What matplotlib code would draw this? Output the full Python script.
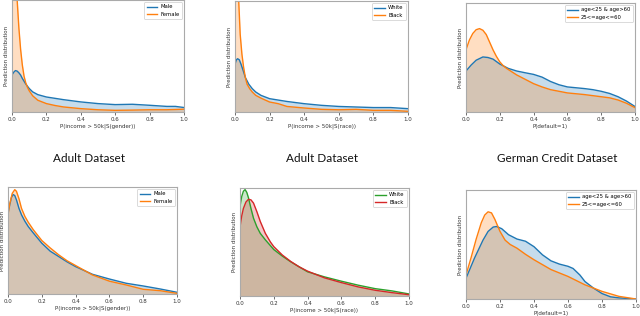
import matplotlib
matplotlib.use("Agg")
import matplotlib.pyplot as plt

plt.rcParams['font.family'] = ['DejaVu Sans']

# ---- Data (relative density heights) ----
# Top-left: Adult, gender
tl_x_male = [0.0, 0.01, 0.02, 0.03, 0.04, 0.05, 0.06, 0.08, 0.1, 0.12, 0.15, 0.2, 0.25, 0.3, 0.4, 0.5, 0.6, 0.7, 0.8, 0.9, 0.95, 1.0]
tl_y_male = [0.33, 0.355, 0.37, 0.365, 0.35, 0.33, 0.30, 0.25, 0.21, 0.18, 0.155, 0.134, 0.122, 0.11, 0.09, 0.075, 0.066, 0.069, 0.06, 0.05, 0.05, 0.04]
tl_x_female = [0.0, 0.01, 0.02, 0.03, 0.04, 0.05, 0.06, 0.07, 0.08, 0.09, 0.1, 0.12, 0.15, 0.2, 0.25, 0.3, 0.4, 0.5, 0.6, 0.7, 0.8, 0.9, 1.0]
tl_y_female = [1.25, 1.45, 1.3, 1.0, 0.75, 0.56, 0.42, 0.32, 0.26, 0.22, 0.19, 0.145, 0.105, 0.075, 0.058, 0.045, 0.03, 0.02, 0.015, 0.017, 0.02, 0.02, 0.025]

# Top-middle: Adult, race
tm_x_white = [0.0, 0.008, 0.015, 0.025, 0.035, 0.05, 0.06, 0.08, 0.1, 0.12, 0.15, 0.2, 0.3, 0.4, 0.5, 0.6, 0.7, 0.8, 0.9, 1.0]
tm_y_white = [0.43, 0.47, 0.48, 0.47, 0.43, 0.36, 0.31, 0.25, 0.21, 0.18, 0.15, 0.12, 0.095, 0.075, 0.06, 0.05, 0.045, 0.04, 0.04, 0.03]
tm_x_black = [0.0, 0.01, 0.015, 0.02, 0.03, 0.04, 0.05, 0.06, 0.07, 0.085, 0.1, 0.12, 0.15, 0.2, 0.25, 0.3, 0.4, 0.5, 0.6, 0.7, 0.8, 0.9, 1.0]
tm_y_black = [1.1, 1.3, 1.25, 1.05, 0.7, 0.52, 0.4, 0.31, 0.25, 0.21, 0.18, 0.15, 0.125, 0.09, 0.075, 0.05, 0.036, 0.024, 0.02, 0.024, 0.015, 0.015, 0.006]

# Top-right: German credit, age
tr_x_blue = [0.0, 0.03, 0.06, 0.1, 0.13, 0.16, 0.2, 0.25, 0.3, 0.35, 0.4, 0.45, 0.5, 0.55, 0.6, 0.7, 0.75, 0.8, 0.85, 0.9, 0.95, 1.0]
tr_y_blue = [0.376, 0.43, 0.475, 0.505, 0.50, 0.485, 0.44, 0.40, 0.376, 0.36, 0.345, 0.32, 0.28, 0.25, 0.23, 0.215, 0.205, 0.19, 0.17, 0.14, 0.10, 0.05]
tr_x_orange = [0.0, 0.02, 0.04, 0.06, 0.08, 0.1, 0.12, 0.14, 0.16, 0.18, 0.2, 0.22, 0.24, 0.27, 0.3, 0.35, 0.4, 0.45, 0.5, 0.55, 0.6, 0.7, 0.8, 0.85, 0.9, 0.95, 1.0]
tr_y_orange = [0.57, 0.66, 0.72, 0.755, 0.765, 0.75, 0.71, 0.64, 0.57, 0.51, 0.46, 0.425, 0.40, 0.37, 0.34, 0.30, 0.26, 0.23, 0.205, 0.19, 0.175, 0.16, 0.14, 0.13, 0.11, 0.08, 0.04]

# Bottom-left: Adult, gender (fair model)
bl_x_male = [0.0, 0.01, 0.02, 0.03, 0.04, 0.05, 0.065, 0.08, 0.1, 0.12, 0.15, 0.2, 0.25, 0.3, 0.35, 0.4, 0.5, 0.6, 0.7, 0.8, 0.9, 1.0]
bl_y_male = [0.756, 0.83, 0.90, 0.93, 0.92, 0.88, 0.80, 0.74, 0.68, 0.63, 0.57, 0.475, 0.40, 0.35, 0.30, 0.256, 0.184, 0.14, 0.10, 0.075, 0.047, 0.016]
bl_x_female = [0.0, 0.01, 0.025, 0.04, 0.05, 0.065, 0.08, 0.1, 0.12, 0.15, 0.2, 0.25, 0.3, 0.35, 0.4, 0.5, 0.6, 0.7, 0.8, 0.9, 1.0]
bl_y_female = [0.74, 0.84, 0.94, 0.975, 0.96, 0.89, 0.80, 0.725, 0.67, 0.60, 0.50, 0.43, 0.366, 0.31, 0.266, 0.178, 0.12, 0.084, 0.044, 0.031, 0.006]

# Bottom-middle: Adult, race (fair model)
bm_x_white = [0.0, 0.01, 0.02, 0.03, 0.04, 0.05, 0.065, 0.08, 0.1, 0.12, 0.15, 0.2, 0.25, 0.3, 0.35, 0.4, 0.5, 0.6, 0.7, 0.8, 0.9, 1.0]
bm_y_white = [0.83, 0.92, 0.97, 0.985, 0.96, 0.91, 0.81, 0.72, 0.64, 0.58, 0.52, 0.43, 0.37, 0.317, 0.27, 0.224, 0.177, 0.137, 0.10, 0.068, 0.047, 0.019]
bm_x_black = [0.0, 0.01, 0.02, 0.035, 0.05, 0.065, 0.08, 0.1, 0.12, 0.15, 0.18, 0.2, 0.25, 0.3, 0.35, 0.4, 0.5, 0.6, 0.7, 0.8, 0.9, 1.0]
bm_y_black = [0.64, 0.74, 0.81, 0.87, 0.895, 0.89, 0.86, 0.78, 0.69, 0.58, 0.50, 0.457, 0.38, 0.32, 0.27, 0.23, 0.168, 0.124, 0.084, 0.053, 0.031, 0.012]

# Bottom-right: German credit, age (fair model)
br_x_blue = [0.0, 0.05, 0.1, 0.13, 0.16, 0.18, 0.21, 0.25, 0.3, 0.35, 0.4, 0.45, 0.5, 0.55, 0.6, 0.63, 0.67, 0.7, 0.75, 0.8, 0.85, 0.9, 1.0]
br_y_blue = [0.19, 0.375, 0.54, 0.62, 0.66, 0.665, 0.645, 0.59, 0.55, 0.53, 0.48, 0.405, 0.35, 0.32, 0.30, 0.28, 0.22, 0.16, 0.10, 0.05, 0.02, 0.01, 0.0]
br_x_orange = [0.0, 0.03, 0.06, 0.09, 0.11, 0.13, 0.15, 0.17, 0.2, 0.23, 0.26, 0.3, 0.35, 0.4, 0.5, 0.6, 0.7, 0.75, 0.8, 0.9, 1.0]
br_y_orange = [0.22, 0.38, 0.55, 0.70, 0.77, 0.80, 0.79, 0.73, 0.62, 0.54, 0.50, 0.466, 0.41, 0.36, 0.27, 0.207, 0.13, 0.10, 0.07, 0.024, 0.0]

# Labels
labels_gender = ["Male", "Female"]
labels_race = ["White", "Black"]
labels_age = ["age<25 & age>60", "25<=age<=60"]
xlabel_gender = "P(income > 50k|S(gender))"
xlabel_race = "P(income > 50k|S(race))"
xlabel_default = "P(default=1)"
titles = ["Adult Dataset", "Adult Dataset", "German Credit Dataset"]
xticks = [0.0, 0.2, 0.4, 0.6, 0.8, 1.0]

W, H = 640, 316
fig = plt.figure(figsize=(W / 100, H / 100), dpi=100)


def add_ax(l, r, t, b):
    return fig.add_axes([l / W, 1 - b / H, (r - l) / W, (b - t) / H])


BLUE, ORANGE, GREEN, RED = "#1f77b4", "#ff7f0e", "#2ca02c", "#d62728"


def panel(ax, series, labels, colors, xlabel):
    for (x, y), lab, c in zip(series, labels, colors):
        ax.fill_between(x, y, 0, color=c, alpha=0.25, linewidth=0)
        ax.plot(x, y, color=c, lw=1.0, label=lab, solid_joinstyle="round")
    ax.set_xlim(0, 1)
    ax.set_ylim(0, 1)
    ax.set_yticks([])
    ax.set_xticks(xticks)
    ax.set_xticklabels([f"{t:.1f}" for t in xticks])
    ax.tick_params(axis="x", labelsize=4, length=2, width=0.5, pad=1.5, colors="#333333")
    for s in ax.spines.values():
        s.set_color("#aaaaaa")
        s.set_linewidth(0.8)
    ax.set_ylabel("Prediction distribution", fontsize=4, labelpad=2, color="#333333")
    if xlabel:
        ax.set_xlabel(xlabel, fontsize=4, labelpad=1.5, color="#333333")
    leg = ax.legend(loc="upper right", fontsize=3.8, handlelength=2.0,
                    borderpad=0.45, labelspacing=0.45, handletextpad=0.6,
                    borderaxespad=0.4, framealpha=1, fancybox=True)
    leg.get_frame().set_edgecolor("#cccccc")
    leg.get_frame().set_linewidth(0.5)


ax = add_ax(12, 184, 0, 112)
panel(ax, [(tl_x_male, tl_y_male), (tl_x_female, tl_y_female)], labels_gender, [BLUE, ORANGE], xlabel_gender)
ax = add_ax(235, 408, 1, 112)
panel(ax, [(tm_x_white, tm_y_white), (tm_x_black, tm_y_black)], labels_race, [BLUE, ORANGE], xlabel_race)
ax = add_ax(466, 635, 3, 112)
panel(ax, [(tr_x_blue, tr_y_blue), (tr_x_orange, tr_y_orange)], labels_age, [BLUE, ORANGE], xlabel_default)

ax = add_ax(8, 177, 187, 294)
panel(ax, [(bl_x_male, bl_y_male), (bl_x_female, bl_y_female)], labels_gender, [BLUE, ORANGE], xlabel_gender)
ax = add_ax(240, 409, 188, 296)
panel(ax, [(bm_x_white, bm_y_white), (bm_x_black, bm_y_black)], labels_race, [GREEN, RED], xlabel_race)
ax = add_ax(466, 636, 190, 299)
panel(ax, [(br_x_blue, br_y_blue), (br_x_orange, br_y_orange)], labels_age, [BLUE, ORANGE], xlabel_default)

for cx, t in zip([89, 322, 557], titles):
    fig.text(cx / W, 1 - 158 / H, t, ha="center", va="center",
             fontsize=8.5, family=["Lato", "DejaVu Sans"], color="#111111")

fig.savefig("out.png", dpi=100)
